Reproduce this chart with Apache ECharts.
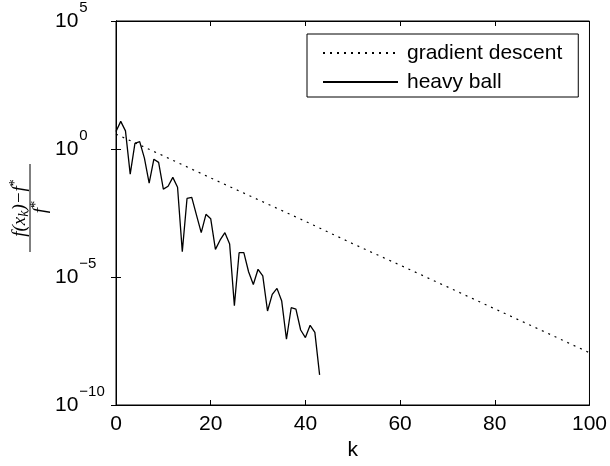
<!DOCTYPE html>
<html>
<head>
<meta charset="utf-8">
<script src="https://cdn.jsdelivr.net/npm/echarts@6/dist/echarts.min.js"></script>
<style>
  html, body { margin: 0; padding: 0; background: #fff; }
  #main { width: 610px; height: 466px; }
</style>
</head>
<body>
<div id="main"></div>
<script>
// gradient descent: read at every 10th iteration (straight line on the log plot)
var gdK = [0, 10, 20, 30, 40, 50, 60, 70, 80, 90, 100];
var gdValues = [3.8, 0.54, 0.074, 0.0105, 1.5e-3, 2.0e-4, 2.9e-5, 4.1e-6, 5.7e-7, 8.0e-8, 1.1e-8];

// heavy ball: one value per iteration k = 0..43
var hbValues = [
    4.8, 12, 5.1, 0.105, 1.66, 1.93, 0.44, 0.046, 0.40, 0.30,
    0.027, 0.035, 0.078, 0.032, 9.8e-5, 0.0117, 0.0129, 2.6e-3, 5.4e-4, 2.8e-3,
    1.9e-3, 1.2e-4, 2.8e-4, 5.4e-4, 1.95e-4, 7.6e-7, 8.9e-5, 8.9e-5, 1.6e-5, 5.1e-6,
    2.0e-5, 1.1e-5, 4.7e-7, 2.1e-6, 3.6e-6, 1.15e-6, 3.7e-8, 6.3e-7, 5.6e-7, 8.5e-8,
    4.3e-8, 1.3e-7, 6.9e-8, 1.5e-9
];

var seriesNames = ['gradient descent', 'heavy ball'];
var xTicks = [0, 100, 20];        // min, max, step
var yRange = [1e-10, 1e5];

var font = 'Liberation Sans, Arial, Helvetica, sans-serif';
var serif = 'Liberation Serif, Times New Roman, serif';

var chart = echarts.init(document.getElementById('main'));

var gdData = gdK.map(function (k, i) { return [k, gdValues[i]]; });
var hbData = hbValues.map(function (v, k) { return [k, v]; });

// y 刻度 10^n
function powLabel(v) {
    var e = Math.round(Math.log(v) / Math.LN10);
    var s = String(e).replace('-', '\u2212');
    return '{b|10}{s|' + s + '}';
}

var option = {
    animation: false,
    backgroundColor: '#fff',
    grid: {
        left: 116, right: 20, top: 21, bottom: 61,
        show: true, borderColor: '#000', borderWidth: 1
    },
    legend: {
        orient: 'vertical',
        left: 307, top: 34,
        padding: [7, 16, 3, 15],
        itemGap: 5,
        itemWidth: 75, itemHeight: 14,
        borderColor: '#000', borderWidth: 1,
        backgroundColor: '#fff',
        itemStyle: { opacity: 0 },
        textStyle: { fontFamily: font, fontSize: 21, color: '#000', lineHeight: 24, padding: [0, 0, 0, 4] },
        data: seriesNames
    },
    xAxis: [{
        type: 'value',
        min: xTicks[0], max: xTicks[1], interval: xTicks[2],
        name: 'k', nameLocation: 'middle', nameGap: 33,
        nameTextStyle: { fontFamily: font, fontSize: 21, color: '#000' },
        axisLine: { lineStyle: { color: '#000', width: 1 } },
        axisTick: { inside: true, length: 5, lineStyle: { color: '#000' } },
        axisLabel: { fontFamily: font, fontSize: 21, color: '#000', margin: 9 },
        splitLine: { show: false }
    }, {
        type: 'value', position: 'top',
        min: xTicks[0], max: xTicks[1], interval: xTicks[2],
        axisLine: { lineStyle: { color: '#000', width: 1 } },
        axisTick: { inside: true, length: 5, lineStyle: { color: '#000' } },
        axisLabel: { show: false },
        splitLine: { show: false }
    }],
    yAxis: [{
        type: 'log', logBase: 10,
        min: yRange[0], max: yRange[1], interval: 5,
        axisLine: { lineStyle: { color: '#000', width: 1 } },
        axisTick: { inside: true, length: 5, lineStyle: { color: '#000' } },
        minorTick: { show: false },
        axisLabel: {
            align: 'left', margin: 61,
            formatter: powLabel,
            rich: {
                b: { fontFamily: font, fontSize: 21, lineHeight: 22, color: '#000', verticalAlign: 'middle' },
                s: { fontFamily: font, fontSize: 15, lineHeight: 15, color: '#000', verticalAlign: 'middle', padding: [0, 0, 26, 1] }
            }
        },
        splitLine: { show: false }
    }, {
        type: 'log', logBase: 10, position: 'right',
        min: yRange[0], max: yRange[1], interval: 5,
        axisLine: { lineStyle: { color: '#000', width: 1 } },
        axisTick: { inside: true, length: 5, lineStyle: { color: '#000' } },
        axisLabel: { show: false },
        splitLine: { show: false }
    }],
    graphic: [{
        type: 'group',
        x: 30, y: 208,
        rotation: Math.PI / 2,
        children: [{
            type: 'text',
            x: 0, y: -10,
            style: {
                text: '{i|f(x}{sub|k}{i|)\u2212f}{sup|*}',
                align: 'center', verticalAlign: 'middle',
                rich: {
                    i: { fontFamily: serif, fontStyle: 'italic', fontSize: 19, fill: '#000' },
                    sub: { fontFamily: serif, fontStyle: 'italic', fontSize: 14, fill: '#000', padding: [8, 0, 0, 0] },
                    sup: { fontFamily: serif, fontSize: 14, fill: '#000', padding: [0, 0, 9, 0] }
                }
            }
        }, {
            type: 'line',
            shape: { x1: -44, y1: 0, x2: 44, y2: 0 },
            style: { stroke: '#000', lineWidth: 1 }
        }, {
            type: 'text',
            x: 1, y: 11,
            style: {
                text: '{i|f}{sup|*}',
                align: 'center', verticalAlign: 'middle',
                rich: {
                    i: { fontFamily: serif, fontStyle: 'italic', fontSize: 19, fill: '#000' },
                    sup: { fontFamily: serif, fontSize: 14, fill: '#000', padding: [0, 0, 9, 0] }
                }
            }
        }]
    }],
    series: [{
        name: seriesNames[0],
        type: 'line',
        data: gdData,
        symbol: 'none',
        lineStyle: { color: '#000', width: 1.2, type: [2, 5] },
        itemStyle: { color: '#000' },
        z: 2
    }, {
        name: seriesNames[1],
        type: 'line',
        data: hbData,
        symbol: 'none',
        lineStyle: { color: '#000', width: 1.3 },
        itemStyle: { color: '#000' },
        z: 3
    }]
};

chart.setOption(option);
</script>
</body>
</html>
